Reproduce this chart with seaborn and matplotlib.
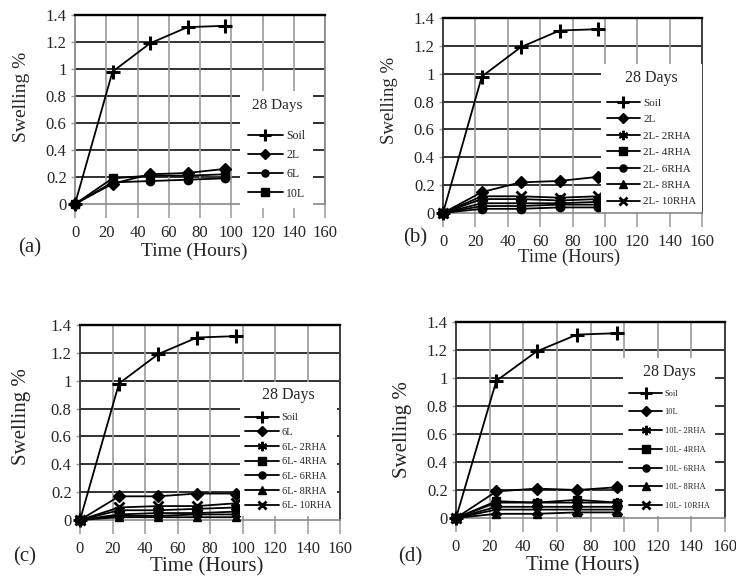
import matplotlib
matplotlib.use("Agg")
import matplotlib.pyplot as plt
import seaborn as sns
import numpy as np

sns.set_style("white")
plt.rcParams['font.family'] = ['Liberation Serif', 'DejaVu Serif']

# ---------------- data ----------------
time = [0, 24, 48, 72, 96]
soil = [0, 0.98, 1.19, 1.31, 1.32]

# panel (a)
a_labels = ["Soil", "2L", "6L", "10L"]
a_2L = [0, 0.15, 0.22, 0.23, 0.26]
a_6L = [0, 0.16, 0.17, 0.18, 0.19]
a_10L = [0, 0.19, 0.21, 0.21, 0.22]

# panel (b)
b_labels = ["Soil", "2L", "2L- 2RHA", "2L- 4RHA", "2L- 6RHA", "2L- 8RHA", "2L- 10RHA"]
b_2L = [0, 0.15, 0.22, 0.23, 0.26]
b_2RHA = [0, 0.10, 0.10, 0.09, 0.10]
b_4RHA = [0, 0.05, 0.05, 0.06, 0.06]
b_6RHA = [0, 0.03, 0.03, 0.04, 0.04]
b_8RHA = [0, 0.07, 0.07, 0.07, 0.08]
b_10RHA = [0, 0.12, 0.12, 0.11, 0.12]

# panel (c)
c_labels = ["Soil", "6L", "6L- 2RHA", "6L- 4RHA", "6L- 6RHA", "6L- 8RHA", "6L- 10RHA"]
c_6L = [0, 0.17, 0.17, 0.19, 0.19]
c_2RHA = [0, 0.07, 0.07, 0.08, 0.09]
c_4RHA = [0, 0.04, 0.05, 0.05, 0.06]
c_6RHA = [0, 0.03, 0.03, 0.04, 0.04]
c_8RHA = [0, 0.02, 0.02, 0.02, 0.02]
c_10RHA = [0, 0.09, 0.10, 0.10, 0.12]

# panel (d)
d_labels = ["Soil", "10L", "10L- 2RHA", "10L- 4RHA", "10L- 6RHA", "10L- 8RHA", "10L- 10RHA"]
d_10L = [0, 0.19, 0.21, 0.20, 0.22]
d_2RHA = [0, 0.11, 0.11, 0.11, 0.11]
d_4RHA = [0, 0.12, 0.11, 0.13, 0.11]
d_6RHA = [0, 0.08, 0.08, 0.08, 0.08]
d_8RHA = [0, 0.03, 0.03, 0.04, 0.04]
d_10RHA = [0, 0.06, 0.06, 0.06, 0.06]

x_ticks = [0, 20, 40, 60, 80, 100, 120, 140, 160]
y_ticks = [0, 0.2, 0.4, 0.6, 0.8, 1.0, 1.2, 1.4]

W, H = 736, 578
fig = plt.figure(figsize=(W / 100, H / 100), dpi=100)

ASTER = (6, 2, 0)
marker_a = ['+', 'D', 'o', 's']
marker_full = ['+', 'D', ASTER, 's', 'o', '^', 'x']

panels = [
    dict(box=(75, 325, 15, 204), series=[soil, a_2L, a_6L, a_10L], labels=a_labels,
         markers=marker_a, tag="(a)", tagpos=(30, 248), xlabpos=(194, 251), ylabpos=(22, 97),
         leg=(240, 91), legfs=8.5, legsp=0.6, titlefs=11, labfs=14, hl=2.9, bp=0.7, sep=13,
         sidec='#8a8a8a'),
    dict(box=(443, 702, 18, 213), series=[soil, b_2L, b_2RHA, b_4RHA, b_6RHA, b_8RHA, b_10RHA],
         labels=b_labels, markers=marker_full, tag="(b)", tagpos=(415, 238), xlabpos=(569, 257),
         ylabpos=(390, 100), leg=(601, 64), legfs=8, legsp=0.6, titlefs=11.5, labfs=13.5,
         hl=3.0, bp=0.5, sep=9, sidec='#333333'),
    dict(box=(80, 340, 325, 520), series=[soil, c_6L, c_2RHA, c_4RHA, c_6RHA, c_8RHA, c_10RHA],
         labels=c_labels, markers=marker_full, tag="(c)", tagpos=(25, 557), xlabpos=(207, 567),
         ylabpos=(22, 417), leg=(240, 382), legfs=7.5, legsp=0.52, titlefs=11.5, labfs=15,
         hl=3.2, bp=0.5, sep=7, sidec='#333333'),
    dict(box=(456, 725, 322, 518), series=[soil, d_10L, d_2RHA, d_4RHA, d_6RHA, d_8RHA, d_10RHA],
         labels=d_labels, markers=marker_full, tag="(d)", tagpos=(410, 557), xlabpos=(583, 566),
         ylabpos=(402, 430), leg=(623, 358), legfs=6, legsp=1.29, titlefs=11.5, labfs=15,
         hl=4.0, bp=0.7, sep=7, sidec='#333333'),
]

for p in panels:
    l, r, t, b = p['box']
    ax = fig.add_axes([l / W, 1 - b / H, (r - l) / W, (b - t) / H])
    for vals, lab, mk in zip(p['series'], p['labels'], p['markers']):
        if mk == '+':
            ms, mew = 10, 2.2
        elif mk == ASTER:
            ms, mew = 8, 1.4
        elif mk == 'x':
            ms, mew = 7, 2.0
        else:
            ms, mew = 6, 1.0
        sns.lineplot(x=time, y=vals, ax=ax, color='black', lw=1.3, marker=mk,
                     markersize=ms, markeredgewidth=mew, markeredgecolor='black',
                     label=lab, clip_on=False, zorder=3)
    ax.set_xlim(0, 160)
    ax.set_ylim(0, 1.4)
    ax.set_xticks(x_ticks)
    ax.set_yticks(y_ticks)
    ax.set_yticklabels([f"{v:g}" for v in y_ticks])
    ax.grid(False)
    for yv in y_ticks[1:]:
        ax.axhline(yv, color='#222222', lw=1.3, zorder=1)
    for xv in x_ticks[1:]:
        ax.axvline(xv, color='#9a9a9a', lw=1.2, zorder=1)
    ax.spines['top'].set_color('black')
    ax.spines['top'].set_linewidth(1.7)
    for s in ('left', 'right'):
        ax.spines[s].set_color(p['sidec'])
        ax.spines[s].set_linewidth(1.3)
    ax.spines['bottom'].set_color('#8a8a8a')
    ax.spines['bottom'].set_linewidth(1.2)
    ax.tick_params(axis='x', direction='out', length=10, width=1.1, color='#9a9a9a',
                   pad=5, labelsize=12, bottom=True)
    ax.tick_params(axis='y', direction='out', length=3, width=1.0, color='#9a9a9a',
                   pad=3, labelsize=12, left=True)
    ax.set_xlabel("Time (Hours)", fontsize=p['labfs'])
    ax.set_ylabel("Swelling %", fontsize=p['labfs'])
    xl, yl = p['xlabpos']
    ax.xaxis.set_label_coords((xl - l) / (r - l), (b - yl) / (b - t))
    ax.xaxis.label.set_va('center')
    xl, yl = p['ylabpos']
    ax.yaxis.set_label_coords((xl - l) / (r - l), (b - yl) / (b - t))
    ax.yaxis.label.set_va('center')

    lx, ly = p['leg']
    leg = ax.legend(loc='upper left', bbox_to_anchor=(lx / W, 1 - ly / H),
                    bbox_transform=fig.transFigure, borderaxespad=0, frameon=True,
                    fancybox=False, edgecolor='none', facecolor='white', framealpha=1,
                    fontsize=p['legfs'], title="28 Days", title_fontsize=p['titlefs'],
                    labelspacing=p['legsp'], handlelength=p['hl'], handletextpad=0.3,
                    borderpad=p['bp'], markerscale=0.85)
    leg.set_zorder(5)
    leg._legend_box.sep = p['sep']

    tx, ty = p['tagpos']
    fig.text(tx / W, 1 - ty / H, p['tag'], fontsize=15, ha='center', va='center')

fig.savefig("out.png", dpi=100, facecolor='white')
